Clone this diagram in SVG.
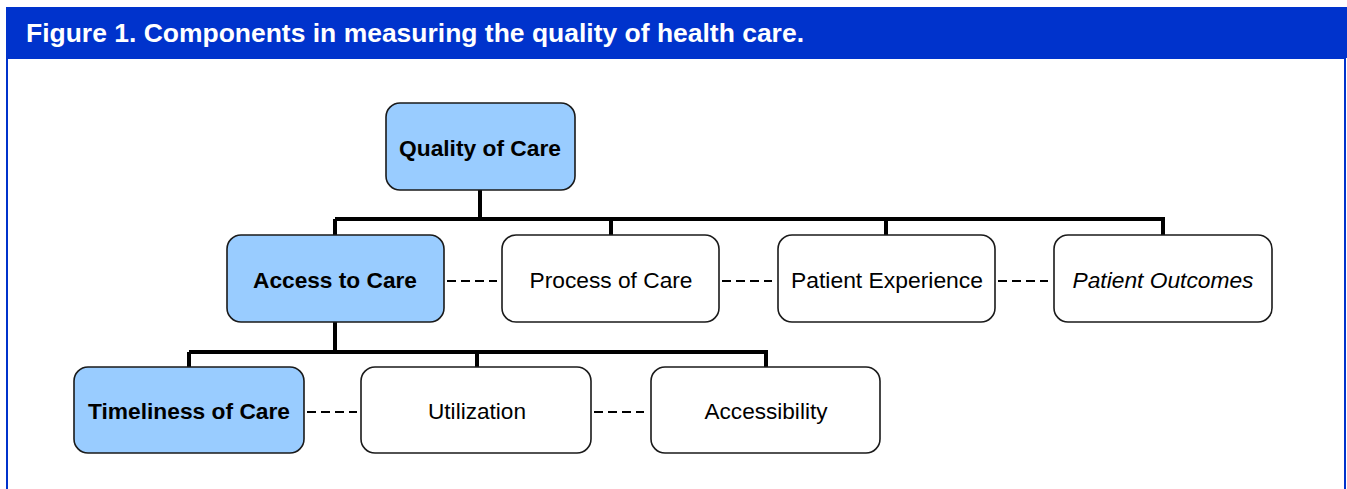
<svg xmlns="http://www.w3.org/2000/svg" width="1347" height="489" viewBox="0 0 1347 489">
<style>
.node rect{stroke:#1a1a1a;stroke-width:1.6}
.hl rect{fill:#99CCFF}
.pl rect{fill:#ffffff}
.t{font-family:"Liberation Sans",Arial,sans-serif;font-size:22px;fill:#000;text-anchor:middle}
.b{font-weight:bold}
.solid{stroke:#000;stroke-width:4;fill:none}
.dash{stroke:#000;stroke-width:2;stroke-dasharray:9 5;fill:none}
</style>
<rect x="0" y="0" width="1347" height="489" fill="#ffffff"/>
<rect x="7" y="58" width="1338" height="440" fill="#ffffff" stroke="#0033CC" stroke-width="2"/>
<rect x="6" y="7" width="1341" height="51" fill="#0033CC"/>
<text x="26" y="42" font-family="Liberation Sans,Arial,sans-serif" font-size="25" font-weight="bold" fill="#ffffff" textLength="778" lengthAdjust="spacingAndGlyphs">Figure 1. Components in measuring the quality of health care.</text>
<g id="connectors">
<path class="solid" d="M480,190 V219 M335,219 H1163 M335,219 V235 M611,219 V235 M886,219 V235 M1163,217 V235"/>
<path class="solid" d="M335,322 V352 M189,352 H767 M189,352 V367 M477,352 V367 M766,350 V367"/>
<path class="dash" d="M447,281 H497 M722,281 H772 M998,281 H1048"/>
<path class="dash" d="M307,412 H357 M594,412 H644"/>
</g>
<g id="quality" class="node hl"><rect x="386" y="103" width="189" height="87" rx="14"/><text class="t b" x="480" y="156" textLength="162" lengthAdjust="spacingAndGlyphs">Quality of Care</text></g>
<g id="access" class="node hl"><rect x="227" y="235" width="217" height="87" rx="14"/><text class="t b" x="335" y="288" textLength="164" lengthAdjust="spacingAndGlyphs">Access to Care</text></g>
<g id="process" class="node pl"><rect x="502" y="235" width="217" height="87" rx="14"/><text class="t" x="611" y="288" textLength="163" lengthAdjust="spacingAndGlyphs">Process of Care</text></g>
<g id="experience" class="node pl"><rect x="778" y="235" width="217" height="87" rx="14"/><text class="t" x="887" y="288" textLength="192" lengthAdjust="spacingAndGlyphs">Patient Experience</text></g>
<g id="outcomes" class="node pl"><rect x="1054" y="235" width="218" height="87" rx="14"/><text class="t" x="1163" y="288" font-style="italic" textLength="181" lengthAdjust="spacingAndGlyphs">Patient Outcomes</text></g>
<g id="timeliness" class="node hl"><rect x="74" y="367" width="230" height="86" rx="14"/><text class="t b" x="189" y="419" textLength="202" lengthAdjust="spacingAndGlyphs">Timeliness of Care</text></g>
<g id="utilization" class="node pl"><rect x="361" y="367" width="230" height="86" rx="14"/><text class="t" x="477" y="419" textLength="98" lengthAdjust="spacingAndGlyphs">Utilization</text></g>
<g id="accessibility" class="node pl"><rect x="651" y="367" width="229" height="86" rx="14"/><text class="t" x="766" y="419" textLength="123" lengthAdjust="spacingAndGlyphs">Accessibility</text></g>
</svg>
